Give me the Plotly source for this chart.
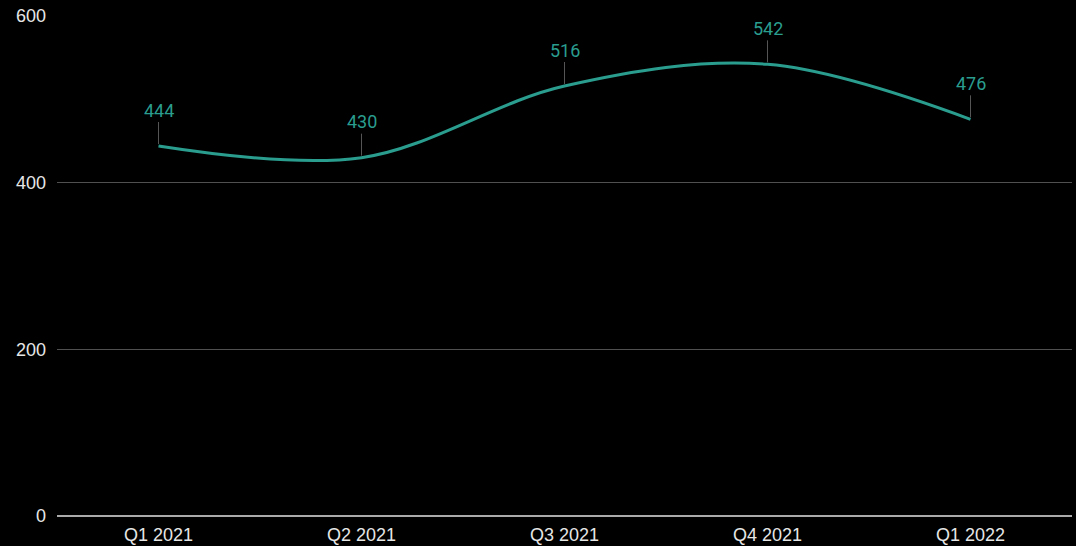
import plotly.graph_objects as go

categories = ["Q1 2021", "Q2 2021", "Q3 2021", "Q4 2021", "Q1 2022"]
values = [444, 430, 516, 542, 476]
y_ticks = [0, 200, 400, 600]

line_color = "#2a9d8f"

fig = go.Figure()
fig.add_trace(go.Scatter(
    x=categories, y=values, mode="lines",
    line=dict(color=line_color, width=3, shape="spline", smoothing=1.0),
    hoverinfo="x+y", showlegend=False,
))

for c, v in zip(categories, values):
    fig.add_annotation(
        x=c, y=v, text=str(v), showarrow=True, arrowhead=0, arrowwidth=1,
        arrowcolor="#555555", ax=0, ay=-36, standoff=2,
        font=dict(family="Roboto", size=18, color=line_color),
    )

fig.update_layout(
    width=1076, height=546,
    paper_bgcolor="#000000", plot_bgcolor="#000000",
    margin=dict(l=57, r=4, t=16, b=30),
    font=dict(family="Liberation Sans, Arial", size=18, color="#e6e6e6"),
    xaxis=dict(type="category", range=[-0.5, 4.5], showgrid=False,
               showline=False, zeroline=False, ticks="",
               ticklabelstandoff=6, automargin=False,
               tickfont=dict(size=18, color="#e6e6e6")),
    yaxis=dict(range=[0, 600], tickvals=y_ticks, showgrid=True,
               gridcolor="#505050", gridwidth=1, zeroline=True,
               zerolinecolor="#aaaaaa", zerolinewidth=1.5, showline=False,
               ticks="", ticklabelstandoff=10, automargin=False,
               tickfont=dict(size=18, color="#e6e6e6")),
)

fig.write_html(
    "out.html",
    config={"displayModeBar": False},
    post_script="document.body.style.margin='0';document.body.style.background='#000';",
)
